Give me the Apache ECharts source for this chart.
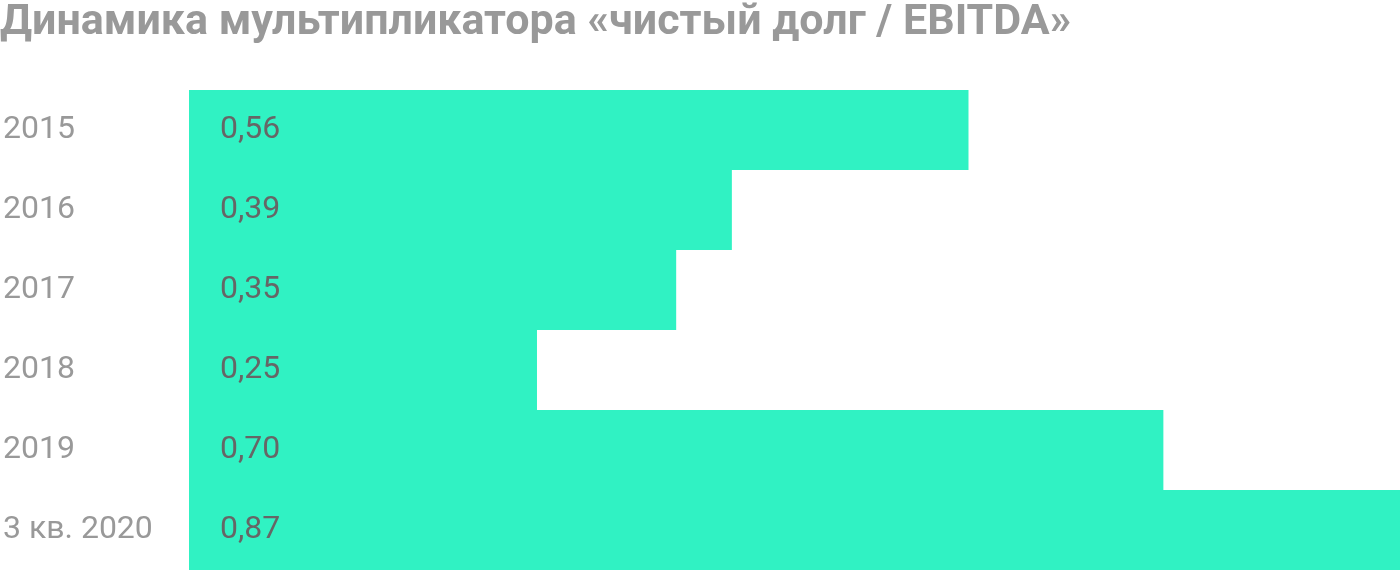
<!DOCTYPE html>
<html><head><meta charset="utf-8">
<script src="https://cdn.jsdelivr.net/npm/echarts@6/dist/echarts.min.js"></script>
<style>html,body{margin:0;padding:0;background:#fff}#c{width:1400px;height:570px}</style>
</head><body><div id="c"></div>
<script>
const titleText = 'Динамика мультипликатора «чистый долг / EBITDA»';
const categories = ['2015','2016','2017','2018','2019','3 кв. 2020'];
const values = [0.56,0.39,0.35,0.25,0.70,0.87];
const chart = echarts.init(document.getElementById('c'));
chart.setOption({
  animation:false,
  title:{text:titleText,left:0,top:2,padding:0,textStyle:{fontFamily:'Roboto',fontWeight:'bold',fontSize:43,color:'#999999'}},
  grid:{left:186,right:0,top:90,bottom:0},
  xAxis:{type:'value',min:0,max:0.87,show:false},
  yAxis:{type:'category',data:categories,inverse:true,axisLine:{show:false},axisTick:{show:false},
    axisLabel:{align:'left',margin:186,fontFamily:'Roboto',fontSize:32,color:'#999999'}},
  series:[{type:'bar',data:values,barCategoryGap:0,itemStyle:{color:'#30F2C3'},
    label:{show:true,position:'insideLeft',distance:31,fontFamily:'Roboto',fontSize:32,color:'#666666',
      formatter:p=>p.value.toFixed(2).replace('.',',')}}]
});
</script></body></html>
